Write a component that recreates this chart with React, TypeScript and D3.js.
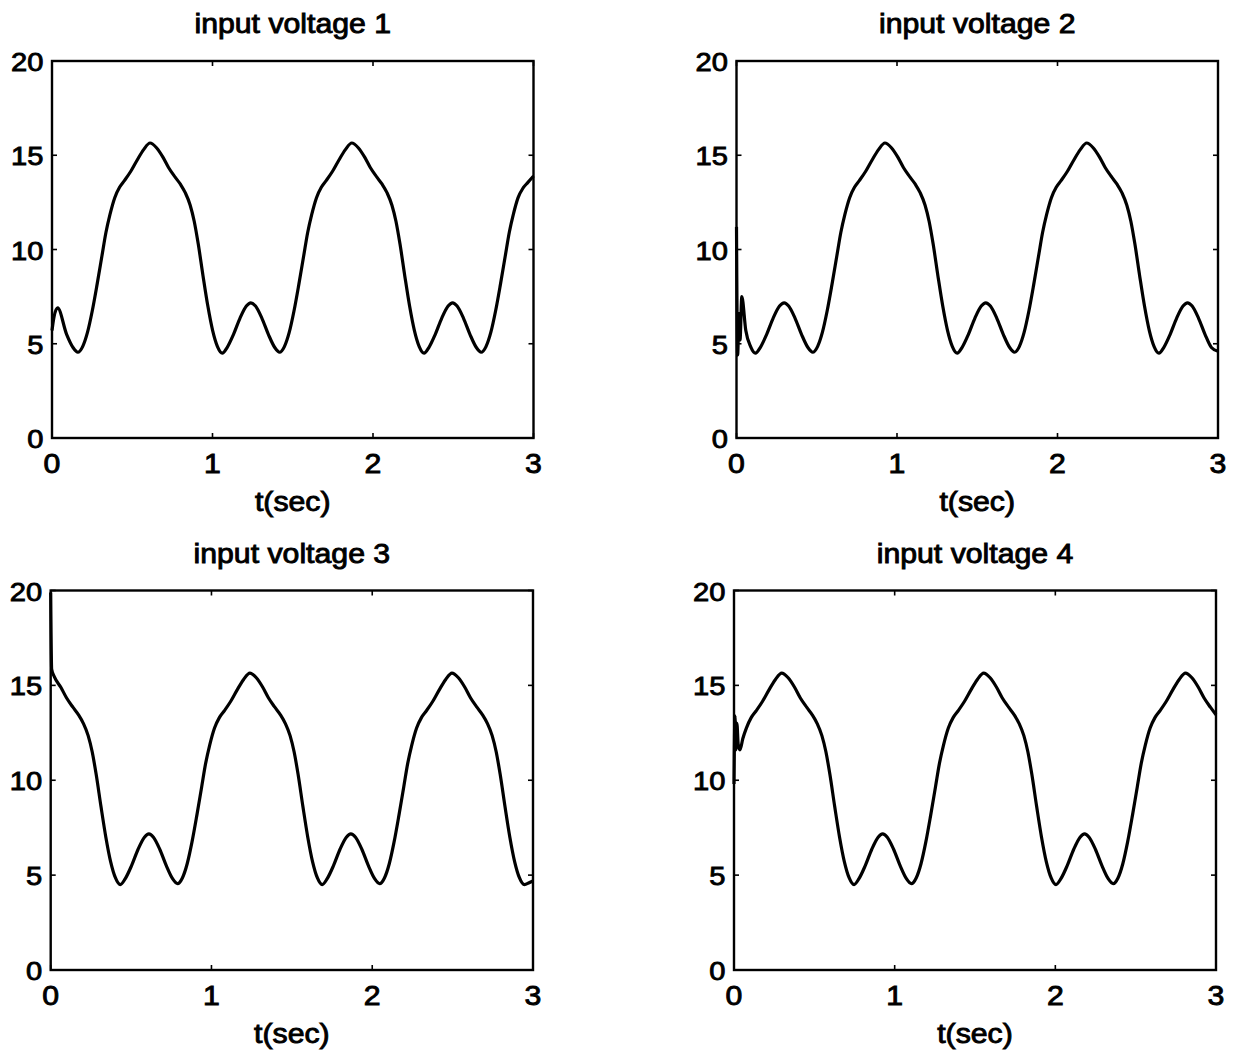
import React from "react";
import * as d3 from "d3";

// Sampled waveforms: [time (s), voltage]
const inputVoltage1: [number, number][] = [
  [0.0, 5.7], [0.012, 6.4], [0.035, 6.9], [0.091, 5.5], [0.131, 4.8], [0.161, 4.55],
  [0.191, 4.85], [0.221, 5.6], [0.251, 6.75], [0.281, 8.15], [0.311, 9.65], [0.336, 10.9],
  [0.361, 11.85], [0.391, 12.75], [0.421, 13.3], [0.451, 13.65], [0.491, 14.15], [0.531, 14.75],
  [0.571, 15.3], [0.611, 15.65], [0.651, 15.4], [0.691, 14.9], [0.726, 14.35], [0.766, 13.85],
  [0.801, 13.45], [0.831, 13.0], [0.861, 12.35], [0.886, 11.5], [0.911, 10.3], [0.941, 8.6],
  [0.971, 7.0], [1.001, 5.7], [1.031, 4.85], [1.061, 4.5], [1.091, 4.8], [1.131, 5.5],
  [1.171, 6.35], [1.211, 7.0], [1.239, 7.17], [1.268, 7.0], [1.308, 6.35], [1.348, 5.5],
  [1.388, 4.8], [1.418, 4.55], [1.448, 4.85], [1.478, 5.6], [1.508, 6.75], [1.538, 8.15],
  [1.568, 9.65], [1.593, 10.9], [1.618, 11.85], [1.648, 12.75], [1.678, 13.3], [1.708, 13.65],
  [1.748, 14.15], [1.788, 14.75], [1.828, 15.3], [1.868, 15.65], [1.908, 15.4], [1.948, 14.9],
  [1.983, 14.35], [2.023, 13.85], [2.058, 13.45], [2.088, 13.0], [2.118, 12.35], [2.143, 11.5],
  [2.168, 10.3], [2.198, 8.6], [2.228, 7.0], [2.258, 5.7], [2.288, 4.85], [2.318, 4.5],
  [2.348, 4.8], [2.388, 5.5], [2.428, 6.35], [2.468, 7.0], [2.496, 7.17], [2.524, 7.0],
  [2.564, 6.35], [2.604, 5.5], [2.644, 4.8], [2.674, 4.55], [2.704, 4.85], [2.734, 5.6],
  [2.764, 6.75], [2.794, 8.15], [2.824, 9.65], [2.849, 10.9], [2.874, 11.85], [2.904, 12.75],
  [2.934, 13.25], [2.964, 13.55], [3.0, 13.9],
];

const inputVoltage2: [number, number][] = [
  [0.0, 11.2], [0.007, 4.4], [0.016, 6.6], [0.022, 5.2], [0.033, 7.5], [0.058, 5.7],
  [0.088, 4.85], [0.118, 4.5], [0.148, 4.8], [0.188, 5.5], [0.228, 6.35], [0.268, 7.0],
  [0.297, 7.17], [0.325, 7.0], [0.365, 6.35], [0.405, 5.5], [0.445, 4.8], [0.475, 4.55],
  [0.505, 4.85], [0.535, 5.6], [0.565, 6.75], [0.595, 8.15], [0.625, 9.65], [0.65, 10.9],
  [0.675, 11.85], [0.705, 12.75], [0.735, 13.3], [0.765, 13.65], [0.805, 14.15], [0.845, 14.75],
  [0.885, 15.3], [0.925, 15.65], [0.965, 15.4], [1.005, 14.9], [1.04, 14.35], [1.08, 13.85],
  [1.115, 13.45], [1.145, 13.0], [1.175, 12.35], [1.2, 11.5], [1.225, 10.3], [1.255, 8.6],
  [1.285, 7.0], [1.315, 5.7], [1.345, 4.85], [1.375, 4.5], [1.405, 4.8], [1.445, 5.5],
  [1.485, 6.35], [1.525, 7.0], [1.553, 7.17], [1.582, 7.0], [1.622, 6.35], [1.662, 5.5],
  [1.702, 4.8], [1.732, 4.55], [1.762, 4.85], [1.792, 5.6], [1.822, 6.75], [1.852, 8.15],
  [1.882, 9.65], [1.907, 10.9], [1.932, 11.85], [1.962, 12.75], [1.992, 13.3], [2.022, 13.65],
  [2.062, 14.15], [2.102, 14.75], [2.142, 15.3], [2.182, 15.65], [2.222, 15.4], [2.262, 14.9],
  [2.297, 14.35], [2.337, 13.85], [2.372, 13.45], [2.402, 13.0], [2.432, 12.35], [2.457, 11.5],
  [2.482, 10.3], [2.512, 8.6], [2.542, 7.0], [2.572, 5.7], [2.602, 4.85], [2.632, 4.5],
  [2.662, 4.8], [2.702, 5.5], [2.742, 6.35], [2.782, 7.0], [2.81, 7.17], [2.839, 7.0],
  [2.879, 6.35], [2.919, 5.5], [2.959, 4.8], [3.0, 4.6],
];

const inputVoltage3: [number, number][] = [
  [0.0, 19.9], [0.006, 15.85], [0.023, 15.45], [0.063, 14.9], [0.098, 14.35], [0.138, 13.85],
  [0.173, 13.45], [0.203, 13.0], [0.233, 12.35], [0.258, 11.5], [0.283, 10.3], [0.313, 8.6],
  [0.343, 7.0], [0.373, 5.7], [0.403, 4.85], [0.433, 4.5], [0.463, 4.8], [0.503, 5.5],
  [0.543, 6.35], [0.583, 7.0], [0.611, 7.17], [0.639, 7.0], [0.679, 6.35], [0.719, 5.5],
  [0.759, 4.8], [0.789, 4.55], [0.819, 4.85], [0.849, 5.6], [0.879, 6.75], [0.909, 8.15],
  [0.939, 9.65], [0.964, 10.9], [0.989, 11.85], [1.019, 12.75], [1.049, 13.3], [1.079, 13.65],
  [1.119, 14.15], [1.159, 14.75], [1.199, 15.3], [1.239, 15.65], [1.279, 15.4], [1.319, 14.9],
  [1.354, 14.35], [1.394, 13.85], [1.429, 13.45], [1.459, 13.0], [1.489, 12.35], [1.514, 11.5],
  [1.539, 10.3], [1.569, 8.6], [1.599, 7.0], [1.629, 5.7], [1.659, 4.85], [1.689, 4.5],
  [1.719, 4.8], [1.759, 5.5], [1.799, 6.35], [1.839, 7.0], [1.867, 7.17], [1.896, 7.0],
  [1.936, 6.35], [1.976, 5.5], [2.016, 4.8], [2.046, 4.55], [2.076, 4.85], [2.106, 5.6],
  [2.136, 6.75], [2.166, 8.15], [2.196, 9.65], [2.221, 10.9], [2.246, 11.85], [2.276, 12.75],
  [2.306, 13.3], [2.336, 13.65], [2.376, 14.15], [2.416, 14.75], [2.456, 15.3], [2.496, 15.65],
  [2.536, 15.4], [2.576, 14.9], [2.611, 14.35], [2.651, 13.85], [2.686, 13.45], [2.716, 13.0],
  [2.746, 12.35], [2.771, 11.5], [2.796, 10.3], [2.826, 8.6], [2.856, 7.0], [2.886, 5.7],
  [2.916, 4.85], [2.946, 4.5], [2.976, 4.6], [3.0, 4.7],
];

const inputVoltage4: [number, number][] = [
  [0.0, 9.8], [0.006, 13.4], [0.012, 11.6], [0.018, 13.0], [0.026, 11.9], [0.037, 11.6],
  [0.055, 12.2], [0.077, 12.75], [0.107, 13.3], [0.137, 13.65], [0.177, 14.15], [0.217, 14.75],
  [0.257, 15.3], [0.297, 15.65], [0.337, 15.4], [0.377, 14.9], [0.412, 14.35], [0.452, 13.85],
  [0.487, 13.45], [0.517, 13.0], [0.547, 12.35], [0.572, 11.5], [0.597, 10.3], [0.627, 8.6],
  [0.657, 7.0], [0.687, 5.7], [0.717, 4.85], [0.747, 4.5], [0.777, 4.8], [0.817, 5.5],
  [0.857, 6.35], [0.897, 7.0], [0.925, 7.17], [0.954, 7.0], [0.994, 6.35], [1.034, 5.5],
  [1.074, 4.8], [1.104, 4.55], [1.134, 4.85], [1.164, 5.6], [1.194, 6.75], [1.224, 8.15],
  [1.254, 9.65], [1.279, 10.9], [1.304, 11.85], [1.334, 12.75], [1.364, 13.3], [1.394, 13.65],
  [1.434, 14.15], [1.474, 14.75], [1.514, 15.3], [1.554, 15.65], [1.594, 15.4], [1.634, 14.9],
  [1.669, 14.35], [1.709, 13.85], [1.744, 13.45], [1.774, 13.0], [1.804, 12.35], [1.829, 11.5],
  [1.854, 10.3], [1.884, 8.6], [1.914, 7.0], [1.944, 5.7], [1.974, 4.85], [2.004, 4.5],
  [2.034, 4.8], [2.074, 5.5], [2.114, 6.35], [2.154, 7.0], [2.182, 7.17], [2.21, 7.0],
  [2.25, 6.35], [2.29, 5.5], [2.33, 4.8], [2.36, 4.55], [2.39, 4.85], [2.42, 5.6],
  [2.45, 6.75], [2.48, 8.15], [2.51, 9.65], [2.535, 10.9], [2.56, 11.85], [2.59, 12.75],
  [2.62, 13.3], [2.65, 13.65], [2.69, 14.15], [2.73, 14.75], [2.77, 15.3], [2.81, 15.65],
  [2.85, 15.4], [2.89, 14.9], [2.925, 14.35], [2.965, 13.85], [3.0, 13.45],
];

const titles = ["input voltage 1", "input voltage 2", "input voltage 3", "input voltage 4"];
const xTicks = [0, 1, 2, 3];
const yTicks = [0, 5, 10, 15, 20];
const xLabel = "t(sec)";

const series = [inputVoltage1, inputVoltage2, inputVoltage3, inputVoltage4];

// Axes boxes in page pixels: [left, right, top, bottom]
const panels: [number, number, number, number][] = [
  [52, 533.5, 61, 438],
  [736.5, 1218, 61, 438],
  [50.7, 533, 590.5, 970],
  [734, 1216, 590.5, 970],
];

const FONT = "'Liberation Sans', Arial, Helvetica, sans-serif";
const SX = 1.12; // horizontal stretch of the lettering

function Label({ x, y, text, anchor, size }: { x: number; y: number; text: string; anchor: string; size: number }) {
  return (
    <text
      transform={`translate(${x},${y}) scale(${SX},1)`}
      textAnchor={anchor}
      fontFamily={FONT}
      fontSize={size}
      fill="#000"
      stroke="#000"
      strokeWidth={0.9}
    >
      {text}
    </text>
  );
}

function Panel({ idx }: { idx: number }) {
  const [l, r, t, b] = panels[idx];
  const x = d3.scaleLinear().domain([0, 3]).range([l, r]);
  const y = d3.scaleLinear().domain([0, 20]).range([b, t]);
  const line = d3
    .line<[number, number]>()
    .x((d) => x(d[0]))
    .y((d) => y(d[1]))
    .curve(d3.curveMonotoneX);
  const tickLen = 5;
  return (
    <g>
      <Label x={(l + r) / 2} y={t - 27.7} text={titles[idx]} anchor="middle" size={27} />
      <path d={line(series[idx]) ?? ""} fill="none" stroke="#000" strokeWidth={3.2} strokeLinejoin="round" />
      <rect x={l} y={t} width={r - l} height={b - t} fill="none" stroke="#000" strokeWidth={2.4} />
      {yTicks.map((v) => (
        <g key={`y${v}`}>
          <line x1={l} x2={l + tickLen} y1={y(v)} y2={y(v)} stroke="#000" strokeWidth={1.6} />
          <line x1={r} x2={r - tickLen} y1={y(v)} y2={y(v)} stroke="#000" strokeWidth={1.6} />
          <Label x={l - 8.5} y={y(v) + 10} text={String(v)} anchor="end" size={26} />
        </g>
      ))}
      {xTicks.map((v) => (
        <g key={`x${v}`}>
          <line x1={x(v)} x2={x(v)} y1={b} y2={b - tickLen} stroke="#000" strokeWidth={1.6} />
          <line x1={x(v)} x2={x(v)} y1={t} y2={t + tickLen} stroke="#000" strokeWidth={1.6} />
          <Label x={x(v)} y={b + 35} text={String(v)} anchor="middle" size={27} />
        </g>
      ))}
      <Label x={(l + r) / 2} y={b + 73.4} text={xLabel} anchor="middle" size={27} />
    </g>
  );
}

export default function App() {
  return (
    <svg
      width={1238}
      height={1054}
      style={{ position: "absolute", left: 0, top: 0, background: "#fff" }}
    >
      <rect width={1238} height={1054} fill="#fff" />
      {panels.map((_, i) => (
        <Panel key={i} idx={i} />
      ))}
    </svg>
  );
}
